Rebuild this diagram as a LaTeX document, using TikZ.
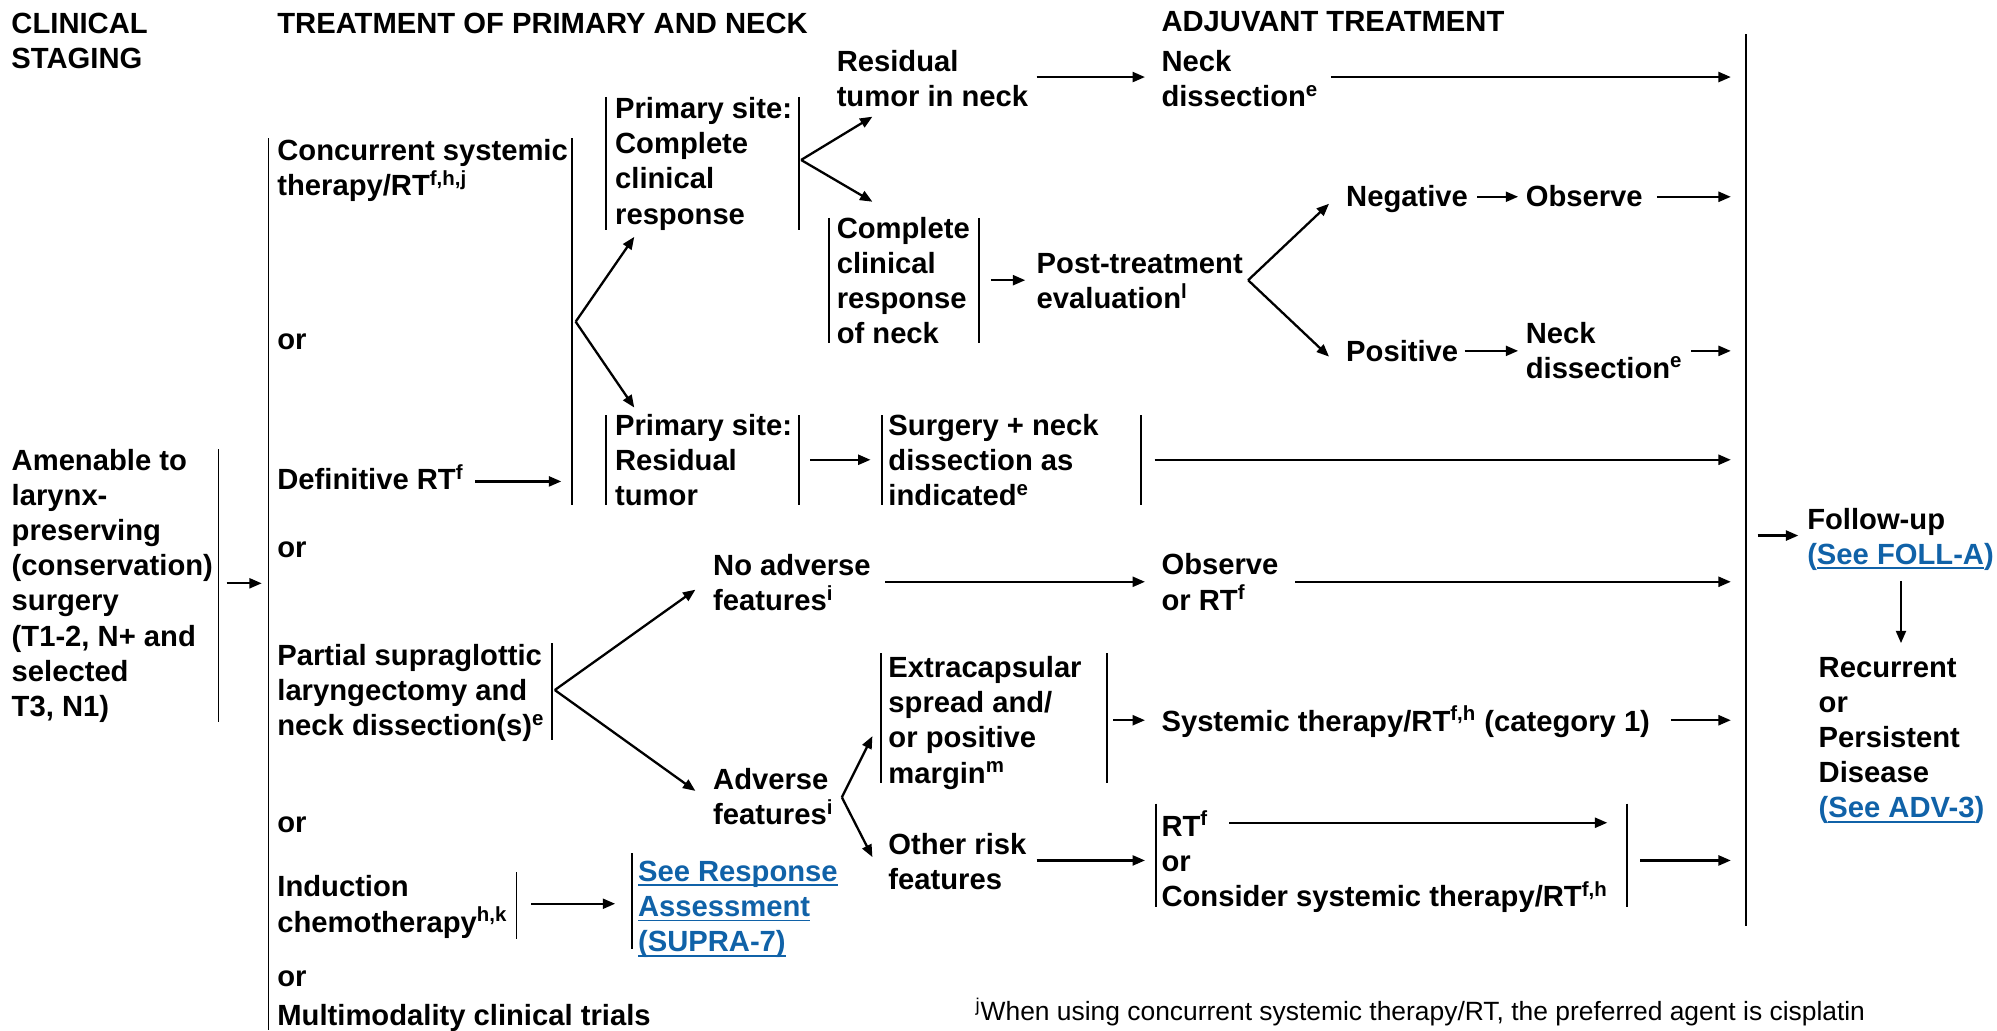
\documentclass[tikz,border=0pt]{standalone}
\usepackage{fontspec}
\setmainfont{Liberation Sans}
\usetikzlibrary{arrows.meta}
\definecolor{linkblue}{RGB}{16,98,168}
% blue link text with a rule under it
\newcommand\lnk[1]{\setbox0\hbox{#1}\rlap{\rule[-2.4pt]{\wd0}{0.9pt}}\box0}
\newcommand\sps[1]{\textsuperscript{#1}}
\begin{document}
% Multi-line nodes are anchored at the baseline of their last line.
\begin{tikzpicture}[x=0.6368pt,y=-0.6368pt,
  txt/.style={anchor=base west, inner sep=0pt, outer sep=0pt, align=left,
    font=\fontsize{14.6}{17.6}\selectfont\bfseries},
  note/.style={anchor=base west, inner sep=0pt, outer sep=0pt,
    font=\fontsize{13.2}{15}\selectfont},
  link/.style={txt, text=linkblue},
  arr/.style={line width=1.15pt, -{Triangle[length=6.2pt,width=5pt]}},
  bar/.style={line width=0.85pt}]
\useasboundingbox (0,0) rectangle (1568,809);

% ---------- column headings ----------
\node[txt] (hstage) at (9,53.6) {CLINICAL\\STAGING};
\node[txt] (hprim)  at (217.8,26) {TREATMENT OF PRIMARY AND NECK};
\node[txt] (hadj)   at (912,25) {ADJUVANT TREATMENT};

% ---------- clinical staging ----------
\node[txt] (amen) at (9.2,562.5) {Amenable to\\larynx-\\preserving\\(conservation)\\surgery\\(T1-2, N+ and\\selected\\T3, N1)};
\draw[bar] (171.5,352.6) -- (171.5,566.6);
\coordinate (amenA) at (178,458);
\coordinate (amenB) at (205.5,458);
\draw[arr] (amenA) -- (amenB);

% ---------- primary treatment options ----------
\draw[bar] (210.7,108.6) -- (210.7,809);
\node[txt] (conc)  at (217.8,153.8) {Concurrent systemic\\therapy/RT\sps{f,h,j}};
\node[txt] (or1)   at (217.8,274.8) {or};
\node[txt] (defrt) at (217.8,384.7) {Definitive RT\sps{f}};
\draw[bar] (449,108.6) -- (449,396.6);
\node[txt] (or2)   at (217.8,437.5) {or};
\node[txt] (part)  at (217.8,577.8) {Partial supraglottic\\laryngectomy and\\neck dissection(s)\sps{e}};
\draw[bar] (433.6,505) -- (433.6,581);
\node[txt] (or3)   at (217.8,654) {or};
\node[txt] (induc) at (217.8,731.9) {Induction\\chemotherapy\sps{h,k}};
\draw[bar] (405.6,685) -- (405.6,737);
\node[txt] (or4)   at (217.8,774.6) {or};
\node[txt] (multi) at (217.8,805) {Multimodality clinical trials};

\coordinate (defA) at (373,378);
\coordinate (defB) at (440.7,378);
\draw[arr] (defA) -- (defB);

% ---------- response after RT ----------
\node[txt] (pscr) at (483,175.9) {Primary site:\\Complete\\clinical\\response};
\draw[bar] (476,76) -- (476,180.6);
\draw[bar] (627.5,76) -- (627.5,180.6);
\node[txt] (psrt) at (483,396.9) {Primary site:\\Residual\\tumor};
\draw[bar] (476,326) -- (476,396.5);
\draw[bar] (627.5,326) -- (627.5,396.5);

\coordinate (fkA) at (452,252.6);
\coordinate (fkA1) at (498,186);
\coordinate (fkA2) at (498,320);
\draw[arr] (fkA) -- (fkA1);
\draw[arr] (fkA) -- (fkA2);

\node[txt] (resneck) at (657,83.9) {Residual\\tumor in neck};
\node[txt] (ccrn) at (657,269.9) {Complete\\clinical\\response\\of neck};
\draw[bar] (651,171) -- (651,269.5);
\draw[bar] (768.7,171) -- (768.7,269.5);

\coordinate (fkB) at (629,125.6);
\coordinate (fkB1) at (685,91.6);
\coordinate (fkB2) at (685,158.4);
\draw[arr] (fkB) -- (fkB1);
\draw[arr] (fkB) -- (fkB2);

\node[txt] (surg) at (697.6,396.9) {Surgery + neck\\dissection as\\indicated\sps{e}};
\draw[bar] (692.6,326) -- (692.6,396.5);
\draw[bar] (896,326) -- (896,396.5);
\coordinate (psA) at (636,361);
\coordinate (psB) at (683.5,361);
\draw[arr] (psA) -- (psB);

% ---------- adjuvant treatment ----------
\node[txt] (nd1) at (912,83.9) {Neck\\dissection\sps{e}};
\coordinate (rnA) at (814,60.5);
\coordinate (rnB) at (899,60.5);
\draw[arr] (rnA) -- (rnB);

\node[txt] (post) at (814,242.6) {Post-treatment\\evaluation\sps{l}};
\coordinate (ccA) at (778,220);
\coordinate (ccB) at (805,220);
\draw[arr] (ccA) -- (ccB);

\coordinate (fkC) at (980,220);
\coordinate (fkC1) at (1043.5,160);
\coordinate (fkC2) at (1043.5,280);
\draw[arr] (fkC) -- (fkC1);
\draw[arr] (fkC) -- (fkC2);

\node[txt] (neg)  at (1057,162.5) {Negative};
\node[txt] (obs1) at (1198,162.5) {Observe};
\coordinate (ngA) at (1160,154.5);
\coordinate (ngB) at (1192,154.5);
\draw[arr] (ngA) -- (ngB);

\node[txt] (pos) at (1057,284) {Positive};
\node[txt] (nd2) at (1198,297.1) {Neck\\dissection\sps{e}};
\coordinate (psvA) at (1150,275.5);
\coordinate (psvB) at (1192,275.5);
\draw[arr] (psvA) -- (psvB);

% ---------- after partial laryngectomy ----------
\coordinate (fkD) at (435.6,541.8);
\coordinate (fkD1) at (546,463);
\coordinate (fkD2) at (546,621);
\draw[arr] (fkD) -- (fkD1);
\draw[arr] (fkD) -- (fkD2);

\node[txt] (noadv) at (560,479.6) {No adverse\\features\sps{i}};
\node[txt] (obsrt) at (912,479.1) {Observe\\or RT\sps{f}};
\coordinate (naA) at (695,456.8);
\coordinate (naB) at (899,456.8);
\draw[arr] (naA) -- (naB);

\node[txt] (adv) at (560,647.6) {Adverse\\features\sps{i}};
\coordinate (fkE) at (661,626);
\coordinate (fkE1) at (685,578);
\coordinate (fkE2) at (685,673);
\draw[arr] (fkE) -- (fkE1);
\draw[arr] (fkE) -- (fkE2);

\node[txt] (extra) at (697.6,614.9) {Extracapsular\\spread and/\\or positive\\margin\sps{m}};
\draw[bar] (692,513) -- (692,615);
\draw[bar] (869,513) -- (869,615);
\node[txt] (sys) at (912,574) {Systemic therapy/RT\sps{f,h} (category 1)};
\coordinate (exA) at (874,565.5);
\coordinate (exB) at (899,565.5);
\draw[arr] (exA) -- (exB);

\node[txt] (other) at (697.6,698.6) {Other risk\\features};
\coordinate (otA) at (814,675.6);
\coordinate (otB) at (899,675.6);
\draw[arr] (otA) -- (otB);

\node[txt] (rtf) at (912,711.8) {RT\sps{f}\\or\\Consider systemic therapy/RT\sps{f,h}};
\draw[bar] (907.6,631) -- (907.6,712);
\draw[bar] (1277.6,631) -- (1277.6,712);
\coordinate (rtA) at (965,646);
\coordinate (rtB) at (1262,646);
\draw[arr] (rtA) -- (rtB);

% ---------- induction ----------
\node[link] (see) at (501,747.3) {\lnk{See Response}\\\lnk{Assessment}\\\lnk{(SUPRA-7)}};
\draw[bar] (496,670) -- (496,745);
\coordinate (inA) at (417,709.6);
\coordinate (inB) at (483,709.6);
\draw[arr] (inA) -- (inB);

% ---------- arrows into the follow-up bar ----------
\coordinate (tip1) at (1359,60.5);
\coordinate (st1) at (1045,60.5);
\draw[arr] (st1) -- (tip1);
\coordinate (st2) at (1301,154.5);
\coordinate (tip2) at (1359,154.5);
\draw[arr] (st2) -- (tip2);
\coordinate (st3) at (1328,275.5);
\coordinate (tip3) at (1359,275.5);
\draw[arr] (st3) -- (tip3);
\coordinate (st4) at (906.5,361);
\coordinate (tip4) at (1359,361);
\draw[arr] (st4) -- (tip4);
\coordinate (st5) at (1017,456.8);
\coordinate (tip5) at (1359,456.8);
\draw[arr] (st5) -- (tip5);
\coordinate (st6) at (1312,565.5);
\coordinate (tip6) at (1359,565.5);
\draw[arr] (st6) -- (tip6);
\coordinate (st7) at (1288,675.6);
\coordinate (tip7) at (1359,675.6);
\draw[arr] (st7) -- (tip7);

\draw[bar] (1370.7,27) -- (1370.7,727);

% ---------- follow-up ----------
\node[txt] (fu) at (1419,443.1) {Follow-up\\{\color{linkblue}(\lnk{See FOLL-A})}};
\coordinate (fuA) at (1380,420.5);
\coordinate (fuB) at (1412,420.5);
\draw[arr] (fuA) -- (fuB);
\node[txt] (rec) at (1428,642.2) {Recurrent\\or\\Persistent\\Disease\\{\color{linkblue}(\lnk{See ADV-3})}};
\coordinate (dnA) at (1492.6,456);
\coordinate (dnB) at (1492.6,505);
\draw[arr] (dnA) -- (dnB);

% ---------- footnote ----------
\node[note] (foot) at (766,801) {\textsuperscript{j}When using concurrent systemic therapy/RT, the preferred agent is cisplatin};
\end{tikzpicture}
\end{document}
